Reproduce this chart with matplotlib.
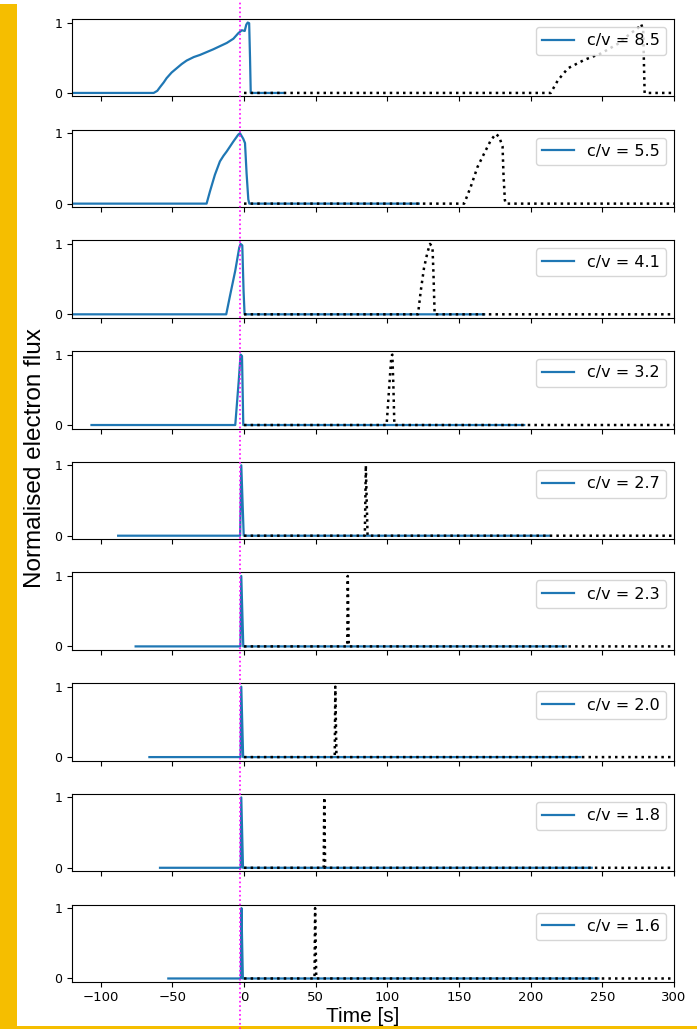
import matplotlib
matplotlib.use("Agg")
import matplotlib.pyplot as plt
from matplotlib.lines import Line2D
from matplotlib.patches import Rectangle


# c/v labels, top to bottom
CV_LABELS = ["8.5", "5.5", "4.1", "3.2", "2.7", "2.3", "2.0", "1.8", "1.6"]

# source profile (blue) and delayed arrival profile (black dotted)
src_t_85 = [-273, -63, -60.5, -58.5, -56, -54, -50.5, -47, -43.5, -40, -35, -30.7, -21.4, -12,
            -7.4, -3.9, -1.5, 0.5, 1.6, 2.6, 3.6, 4.2, 4.7, 27.5]
src_f_85 = [0, 0, 0.03, 0.085, 0.15, 0.21, 0.29, 0.35, 0.41, 0.46, 0.51, 0.54, 0.62, 0.71,
            0.77, 0.85, 0.89, 0.88, 0.97, 1.0, 0.99, 0.5, 0, 0]
obs_t_85 = [0, 214, 219, 226, 237.5, 249, 261, 270, 274.8, 277, 278.5, 279.5, 305]
obs_f_85 = [0, 0, 0.18, 0.35, 0.47, 0.56, 0.70, 0.85, 0.92, 0.98, 0.9, 0, 0]

src_t_55 = [-178, -26.1, -23.8, -20.3, -16.8, -14.3, -12.1, -9.8, -7.5, -4, -2.8, -0.5, 0.7,
            1.8, 3.0, 3.7, 122]
src_f_55 = [0, 0, 0.17, 0.41, 0.6, 0.68, 0.74, 0.81, 0.88, 0.98, 1.0, 0.92, 0.86,
            0.43, 0.06, 0, 0]
obs_t_55 = [0, 153.6, 158.2, 162.9, 167.5, 172.2, 175.7, 178, 180.4, 181, 182, 182.6, 305]
obs_f_55 = [0, 0, 0.24, 0.52, 0.71, 0.9, 0.99, 0.95, 0.81, 0.43, 0.05, 0, 0]

src_t_41 = [-132.5, -12.4, -9.6, -6.1, -3.3, -2.4, -1.2, -0.3, 0.4, 167.6]
src_f_41 = [0, 0, 0.28, 0.62, 0.95, 1.0, 0.98, 0.33, 0, 0]
obs_t_41 = [0, 121.4, 123.3, 125.6, 128, 129.8, 131.5, 132.2, 133, 305]
obs_f_41 = [0, 0, 0.33, 0.66, 0.88, 1.0, 0.95, 0.57, 0, 0]

src_t_32 = [-106.4, -6.1, -3.7, -2.4, -1.4, -0.5, 195.5]
src_f_32 = [0, 0, 0.62, 1.0, 0.98, 0, 0]
obs_t_32 = [0, 99.5, 101.1, 102.8, 103.5, 104.2, 104.9, 305]
obs_f_32 = [0, 0, 0.48, 0.98, 1.0, 0.57, 0, 0]

src_t_27 = [-87.8, -2.7, -1.9, -0.2, 212.8]
src_f_27 = [0, 0, 1.0, 0, 0]
obs_t_27 = [0, 84.3, 85.0, 86.2, 305]
obs_f_27 = [0, 0, 1.0, 0, 0]

src_t_23 = [-75.6, -2.5, -1.9, -0.5, 224.7]
src_f_23 = [0, 0, 1.0, 0, 0]
obs_t_23 = [0, 72.0, 72.4, 73.1, 305]
obs_f_23 = [0, 0, 1.0, 0, 0]

src_t_20 = [-66, -2.4, -1.9, -0.6, 234.7]
src_f_20 = [0, 0, 1.0, 0, 0]
obs_t_20 = [0, 63.3, 63.7, 64.5, 305]
obs_f_20 = [0, 0, 1.0, 0, 0]

src_t_18 = [-58.6, -2.3, -1.9, -0.7, 242.6]
src_f_18 = [0, 0, 1.0, 0, 0]
obs_t_18 = [0, 55.6, 56.0, 56.6, 305]
obs_f_18 = [0, 0, 1.0, 0, 0]

src_t_16 = [-52.8, -2.2, -1.8, -0.8, 247.2]
src_f_16 = [0, 0, 1.0, 0, 0]
obs_t_16 = [0, 49.2, 49.6, 50.4, 305]
obs_f_16 = [0, 0, 1.0, 0, 0]

PANELS = [
    (src_t_85, src_f_85, obs_t_85, obs_f_85),
    (src_t_55, src_f_55, obs_t_55, obs_f_55),
    (src_t_41, src_f_41, obs_t_41, obs_f_41),
    (src_t_32, src_f_32, obs_t_32, obs_f_32),
    (src_t_27, src_f_27, obs_t_27, obs_f_27),
    (src_t_23, src_f_23, obs_t_23, obs_f_23),
    (src_t_20, src_f_20, obs_t_20, obs_f_20),
    (src_t_18, src_f_18, obs_t_18, obs_f_18),
    (src_t_16, src_f_16, obs_t_16, obs_f_16),
]

X_TICKS = [-100, -50, 0, 50, 100, 150, 200, 250, 300]
MARKER_TIME_PX = 240  # magenta dotted marker, figure pixels from the left

W, H = 697, 1029
YELLOW = "#f5be00"


def make_plot():
    fig, axes = plt.subplots(9, 1, sharex=True, figsize=(W / 100, H / 100), dpi=100)
    fig.subplots_adjust(left=72 / W, right=674 / W, top=1 - 19 / H, bottom=1 - 982 / H,
                        hspace=33.25 / 77.5)

    for ax, cv, (st, sf, ot, of) in zip(axes, CV_LABELS, PANELS):
        ax.plot(st, sf, color="#1f77b4", lw=1.6, label=f"c/v = {cv}")
        ax.plot(ot, of, color="black", lw=1.8, ls=":")
        ax.set_ylim(-0.05, 1.05)
        ax.set_yticks([0, 1])
        ax.tick_params(labelsize=9)
        ax.legend(loc="upper right", fontsize=11.5)

    axes[-1].set_xlim(-120, 300)
    axes[-1].set_xticks(X_TICKS)
    axes[-1].tick_params(axis="x", labelsize=9.5, pad=3)

    # yellow frame
    fig.add_artist(Rectangle((0, 0), 17 / W, 1 - 4 / H, transform=fig.transFigure,
                             color=YELLOW, lw=0, zorder=5))
    fig.add_artist(Rectangle((0, 0), 1, 3.5 / H, transform=fig.transFigure,
                             color=YELLOW, lw=0, zorder=5))

    # onset marker across the whole figure
    fig.add_artist(Line2D([MARKER_TIME_PX / W] * 2, [0, 1], transform=fig.transFigure,
                          color="#ff00ff", lw=1.2, ls=":", zorder=10))

    fig.text(35 / W, 1 - 458 / H, "Normalised electron flux", rotation=90,
             ha="center", va="center", fontsize=17.5, family="Liberation Sans")
    fig.text(363 / W, 1 - 1017 / H, "Time [s]", ha="center", va="center",
             fontsize=15, family="Liberation Sans", zorder=6)

    fig.savefig("out.png", dpi=100)
    plt.close(fig)


if __name__ == "__main__":
    make_plot()
